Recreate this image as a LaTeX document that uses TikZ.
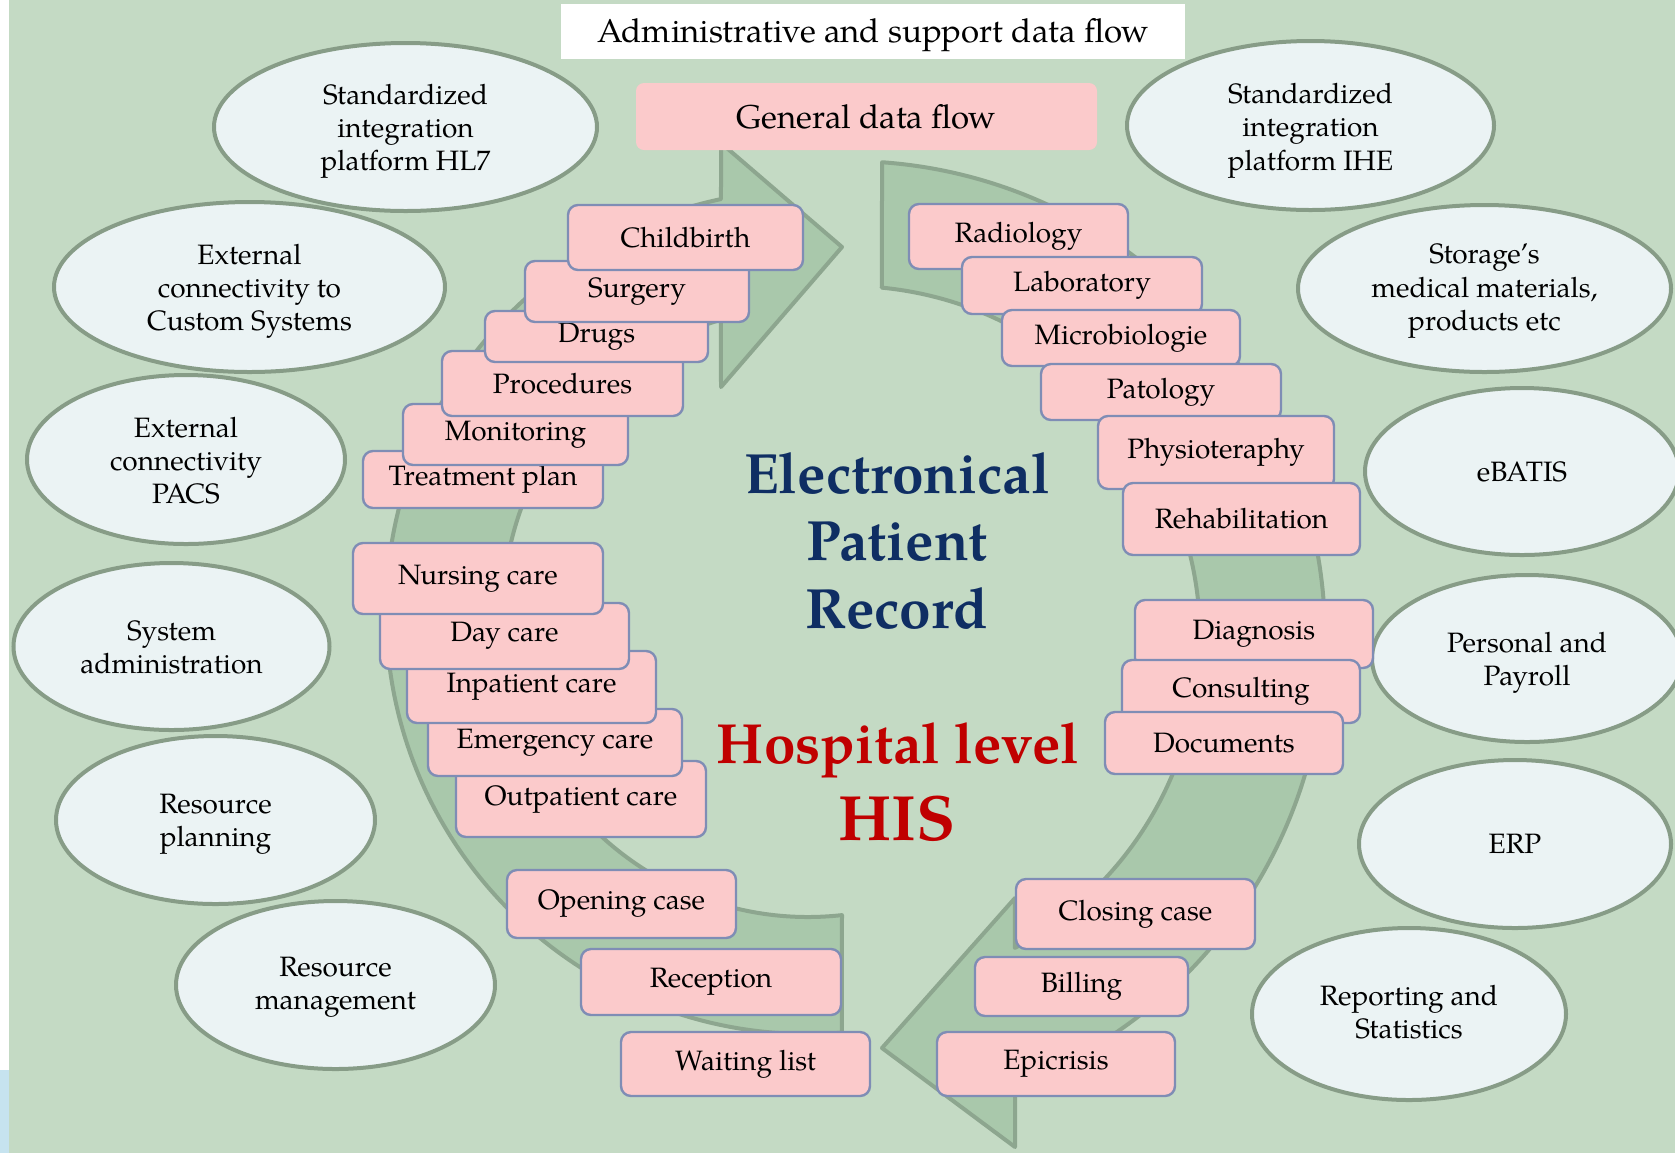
\documentclass[tikz,border=0pt]{standalone}
\usepackage{fontspec}
\setmainfont{texgyrepagella}[Extension=.otf, UprightFont=*-regular, BoldFont=*-bold, ItalicFont=*-italic, BoldItalicFont=*-bolditalic]
\usetikzlibrary{shapes.geometric, calc}
\definecolor{bgc}{HTML}{C4DAC4}
\definecolor{arrfill}{HTML}{A9C8AB}
\definecolor{arredge}{HTML}{8DA68F}
\definecolor{ellfill}{HTML}{EBF3F4}
\definecolor{elledge}{HTML}{879C87}
\definecolor{pinkf}{HTML}{FBCACB}
\definecolor{boxedge}{HTML}{7F8DB5}
\definecolor{navy}{HTML}{0F2E63}
\definecolor{hisred}{HTML}{C00000}
\definecolor{slideblue}{HTML}{C6E3EF}
\newcommand\pinkbox[6]{\node[pbox, minimum width={(#4-#2)*0.5pt}, minimum height={(#5-#3)*0.5pt}] (#1) at ({(#2+#4)/2},{(#3+#5)/2}) {#6};}
% [text shift down in pt]{name}{cx}{cy}{rx}{ry}{text}
\newcommand\ellnode[7][0]{\node[ellb, minimum width={#5*1pt}, minimum height={#6*1pt}] (#2) at (#3,#4) {};
  \node[elltext, yshift={-(#1)*1pt}] (#2t) at (#2.center) {#7};}
\begin{document}
\begin{tikzpicture}[x=0.5pt,y=-0.5pt,
  pbox/.style={draw=boxedge, line width=1.2pt, fill=pinkf, rounded corners=5pt, inner sep=0pt, font=\fontsize{14}{16}\selectfont, text=black},
  ellb/.style={ellipse, draw=elledge, line width=2pt, fill=ellfill, inner sep=0pt},
  elltext/.style={inner sep=0pt, align=center, font=\fontsize{14}{16.6}\selectfont},
  arr/.style={draw=arredge, line width=2pt, fill=arrfill, line join=round},
  bluetext/.style={font=\fontsize{28.4}{33}\bfseries\selectfont, text=navy, anchor=base, inner sep=0pt},
  redtext/.style={font=\fontsize{28.3}{33}\bfseries\selectfont, text=hisred, anchor=base, inner sep=0pt}]
\useasboundingbox (0,0) rectangle (1675,1153);
\fill[bgc] (0,0) rectangle (1675,1153);
\fill[white] (0,0) rectangle (9,1153);
\fill[slideblue] (0,1070) rectangle (9,1153);

% circular arrows
\coordinate (cl) at (808,612);
\coordinate (cr) at (848,638);
\coordinate (lhU) at (721,143);
\coordinate (lhT) at (842,247);
\coordinate (lhD) at (721,387);
\coordinate (rhD) at (1015,1147);
\coordinate (rhT) at (882,1048);
\coordinate (rhU) at (1015,898);
\draw[arr] ($(cl)+(85.4:422)$) arc[start angle=85.4, end angle=258.1, radius=422]
  -- (lhU) -- (lhT) -- (lhD) -- ($(cl)+(253.4:305)$)
  arc[start angle=253.4, end angle=83.6, radius=305] -- cycle;
\draw[arr] ($(cr)+(274.1:477)$) arc[start angle=274.1, end angle=429.5, radius=477]
  -- (rhD) -- (rhT) -- (rhU) -- ($(cr)+(421.7:352)$)
  arc[start angle=421.7, end angle=275.5, radius=352] -- cycle;

% ellipses
\ellnode[2.0]{eHL}{405.5}{127}{191.5}{84}{Standardized\\integration\\platform HL7}
\ellnode[2.0]{eCS}{249.5}{287}{195.5}{85}{External\\connectivity to\\Custom Systems}
\ellnode[0.5]{ePA}{186}{459.5}{159}{84.5}{External\\connectivity\\PACS}
\ellnode[0.3]{eSA}{171.5}{646.5}{158}{83.5}{System\\administration}
\ellnode[2.2]{eRP}{215.5}{820}{159.5}{84}{Resource\\planning}
\ellnode[1.2]{eRM}{335.5}{985}{159.5}{84}{Resource\\management}
\ellnode[2.6]{eIH}{1310.5}{125.5}{183.5}{84.5}{Standardized\\integration\\platform IHE}
\ellnode[1.3]{eST}{1484.5}{288.5}{186.5}{83.5}{Storage’s\\medical materials,\\products etc}
\ellnode{eEB}{1522}{471.5}{157}{83.5}{eBATIS}
\ellnode[2.1]{ePP}{1527}{658.5}{155}{83.5}{Personal and\\Payroll}
\ellnode{eER}{1515}{844}{156}{84}{ERP}
\ellnode[-0.9]{eRS}{1409}{1014}{157}{86}{Reporting and\\Statistics}

% title and general flow
\node[fill=white, inner sep=0pt, minimum width=312pt, minimum height=27.5pt] (title) at (873,31.5) {};
\node[font=\fontsize{16.5}{19}\selectfont, inner sep=0pt, yshift=-2pt] (titletext) at (title.center) {Administrative and support data flow};
\node[fill=pinkf, rounded corners=4pt, inner sep=0pt, minimum width=230.5pt, minimum height=33.5pt, font=\fontsize{16.5}{19}\selectfont] (gdf) at (866.5,116.5) {General data flow};

% left upper stack
\pinkbox{treat}{363}{451}{603}{508}{Treatment plan}
\pinkbox{monit}{403}{404}{628}{465}{Monitoring}
\pinkbox{proc}{442}{351}{683}{416}{Procedures}
\pinkbox{drugs}{485}{311}{708}{362}{Drugs}
\pinkbox{surg}{525}{261}{749}{322}{Surgery}
\pinkbox{child}{568}{205}{803}{270}{Childbirth}
% left lower stack
\pinkbox{outp}{456}{761}{706}{837}{Outpatient care}
\pinkbox{emerg}{428}{709}{682}{776}{Emergency care}
\pinkbox{inpat}{407}{651}{656}{723}{Inpatient care}
\pinkbox{dayc}{380}{603}{629}{669}{Day care}
\pinkbox{nurs}{353}{543}{603}{614}{Nursing care}
% bottom left
\pinkbox{open}{507}{870}{736}{938}{Opening case}
\pinkbox{recep}{581}{949}{841}{1015}{Reception}
\pinkbox{wait}{621}{1032}{870}{1096}{Waiting list}
% right upper stack
\pinkbox{radio}{909}{204}{1128}{269}{Radiology}
\pinkbox{labor}{962}{257}{1202}{314}{Laboratory}
\pinkbox{micro}{1002}{310}{1240}{366}{Microbiologie}
\pinkbox{pato}{1041}{364}{1281}{420}{Patology}
\pinkbox{physio}{1098}{416}{1334}{489}{Physioteraphy}
\pinkbox{rehab}{1123}{483}{1360}{555}{Rehabilitation}
% right lower stack
\pinkbox{diag}{1135}{600}{1373}{668}{Diagnosis}
\pinkbox{consu}{1122}{660}{1360}{723}{Consulting}
\pinkbox{docum}{1105}{712}{1343}{774}{Documents}
% bottom right
\pinkbox{closing}{1016}{879}{1255}{949}{Closing case}
\pinkbox{billing}{975}{957}{1188}{1016}{Billing}
\pinkbox{epicr}{937}{1032}{1175}{1096}{Epicrisis}

% centre texts
\node[bluetext] (tEl) at (897,493) {Electronical};
\node[bluetext] (tPa) at (897,560) {Patient};
\node[bluetext] (tRe) at (897,628) {Record};
\node[redtext] (tHo) at (898,763) {Hospital level};
\node[redtext, font=\fontsize{32}{36}\bfseries\selectfont] (tHI) at (897,840) {HIS};
\end{tikzpicture}
\end{document}
